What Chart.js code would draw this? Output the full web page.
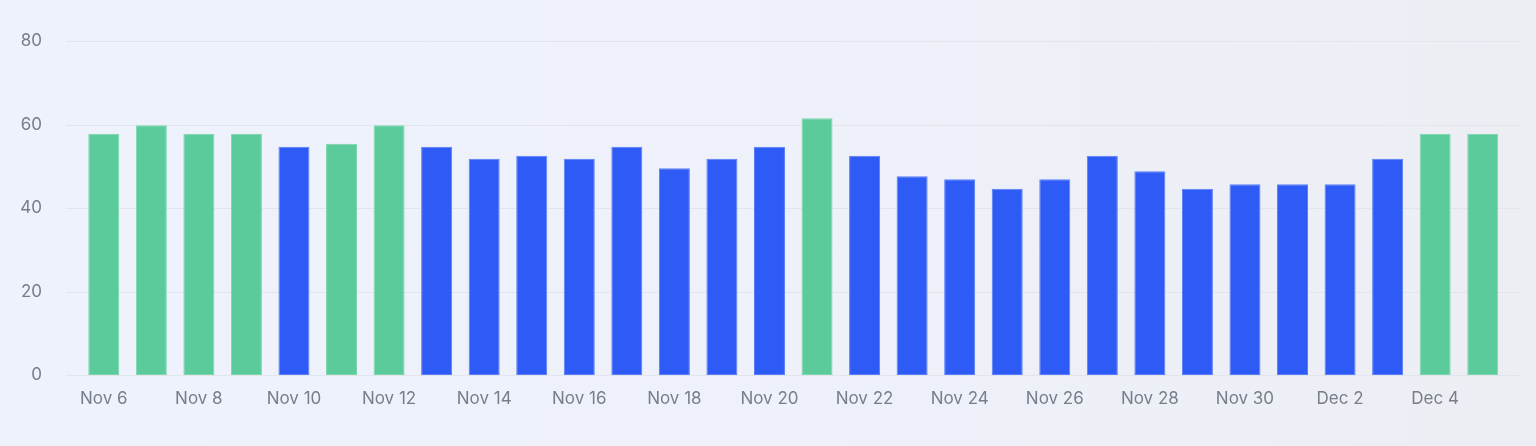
<!DOCTYPE html>
<html>
<head>
<meta charset="utf-8">
<script src="https://cdn.jsdelivr.net/npm/chart.js@4"></script>
<style>
  html, body { margin: 0; padding: 0; }
  body {
    width: 1536px; height: 446px; overflow: hidden;
    background: linear-gradient(90deg, #eef2fc 0%, #eef1fa 50%, #edeef4 100%);
  }
  #wrap { position: relative; width: 1536px; height: 446px; }
</style>
</head>
<body>
<div id="wrap"><canvas id="c" width="1536" height="446"></canvas></div>
<script>
const categories = [
  "Nov 6","Nov 7","Nov 8","Nov 9","Nov 10","Nov 11","Nov 12","Nov 13","Nov 14","Nov 15",
  "Nov 16","Nov 17","Nov 18","Nov 19","Nov 20","Nov 21","Nov 22","Nov 23","Nov 24","Nov 25",
  "Nov 26","Nov 27","Nov 28","Nov 29","Nov 30","Dec 1","Dec 2","Dec 3","Dec 4","Dec 5"
];
const values = [
  57.8, 59.8, 57.8, 57.8, 54.7, 55.4, 59.8, 54.7, 51.8, 52.5,
  51.8, 54.7, 49.5, 51.8, 54.7, 61.5, 52.5, 47.6, 46.9, 44.6,
  46.9, 52.5, 48.8, 44.6, 45.7, 45.7, 45.7, 51.8, 57.8, 57.8
];
const threshold = 55;
const yTicks = [0, 20, 40, 60, 80];

const GREEN = "#5ccb9b", GREEN_EDGE = "#7bd6ae";
const BLUE = "#2e5bf6", BLUE_EDGE = "#5a7ef8";

const gridPlugin = {
  id: "extGrid",
  beforeDatasetsDraw(chart) {
    const { ctx, chartArea, scales } = chart;
    const y = scales.y;
    ctx.save();
    ctx.strokeStyle = "#e2e5ec";
    ctx.lineWidth = 1;
    y.ticks.forEach(t => {
      const py = Math.round(y.getPixelForValue(t.value)) + 0.5;
      ctx.beginPath();
      ctx.moveTo(chartArea.left - 14, py);
      ctx.lineTo(chartArea.right + 13.5, py);
      ctx.stroke();
    });
    ctx.restore();
  }
};

new Chart(document.getElementById("c"), {
  type: "bar",
  data: {
    labels: categories,
    datasets: [{
      data: values,
      backgroundColor: c => (c.raw > threshold ? GREEN : BLUE),
      borderColor: c => (c.raw > threshold ? GREEN_EDGE : BLUE_EDGE),
      borderWidth: 1,
      borderSkipped: false,
      categoryPercentage: 0.8,
      barPercentage: 0.815
    }]
  },
  plugins: [gridPlugin],
  options: {
    responsive: false,
    devicePixelRatio: 1,
    animation: false,
    layout: { padding: { top: 41, right: 29.5, bottom: 0, left: 0 } },
    plugins: { legend: { display: false }, tooltip: { enabled: false } },
    scales: {
      x: {
        grid: { display: false, drawTicks: false },
        border: { display: false },
        ticks: {
          autoSkip: false,
          maxRotation: 0,
          padding: 14,
          color: "#767e8a",
          font: { family: "Inter", size: 17 },
          callback: function(v, i) { return i % 2 === 0 ? categories[i] : ""; }
        },
        afterFit: s => { s.height = 71; }
      },
      y: {
        min: 0, max: 80,
        afterBuildTicks: s => { s.ticks = yTicks.map(v => ({ value: v })); },
        grid: { display: false, drawTicks: false },
        border: { display: false },
        ticks: {
          padding: 38,
          color: "#767e8a",
          font: { family: "Inter", size: 17 }
        },
        afterFit: s => { s.width = 80; s.paddingTop = 10; s.paddingBottom = 10; }
      }
    }
  }
});
</script>
</body>
</html>
